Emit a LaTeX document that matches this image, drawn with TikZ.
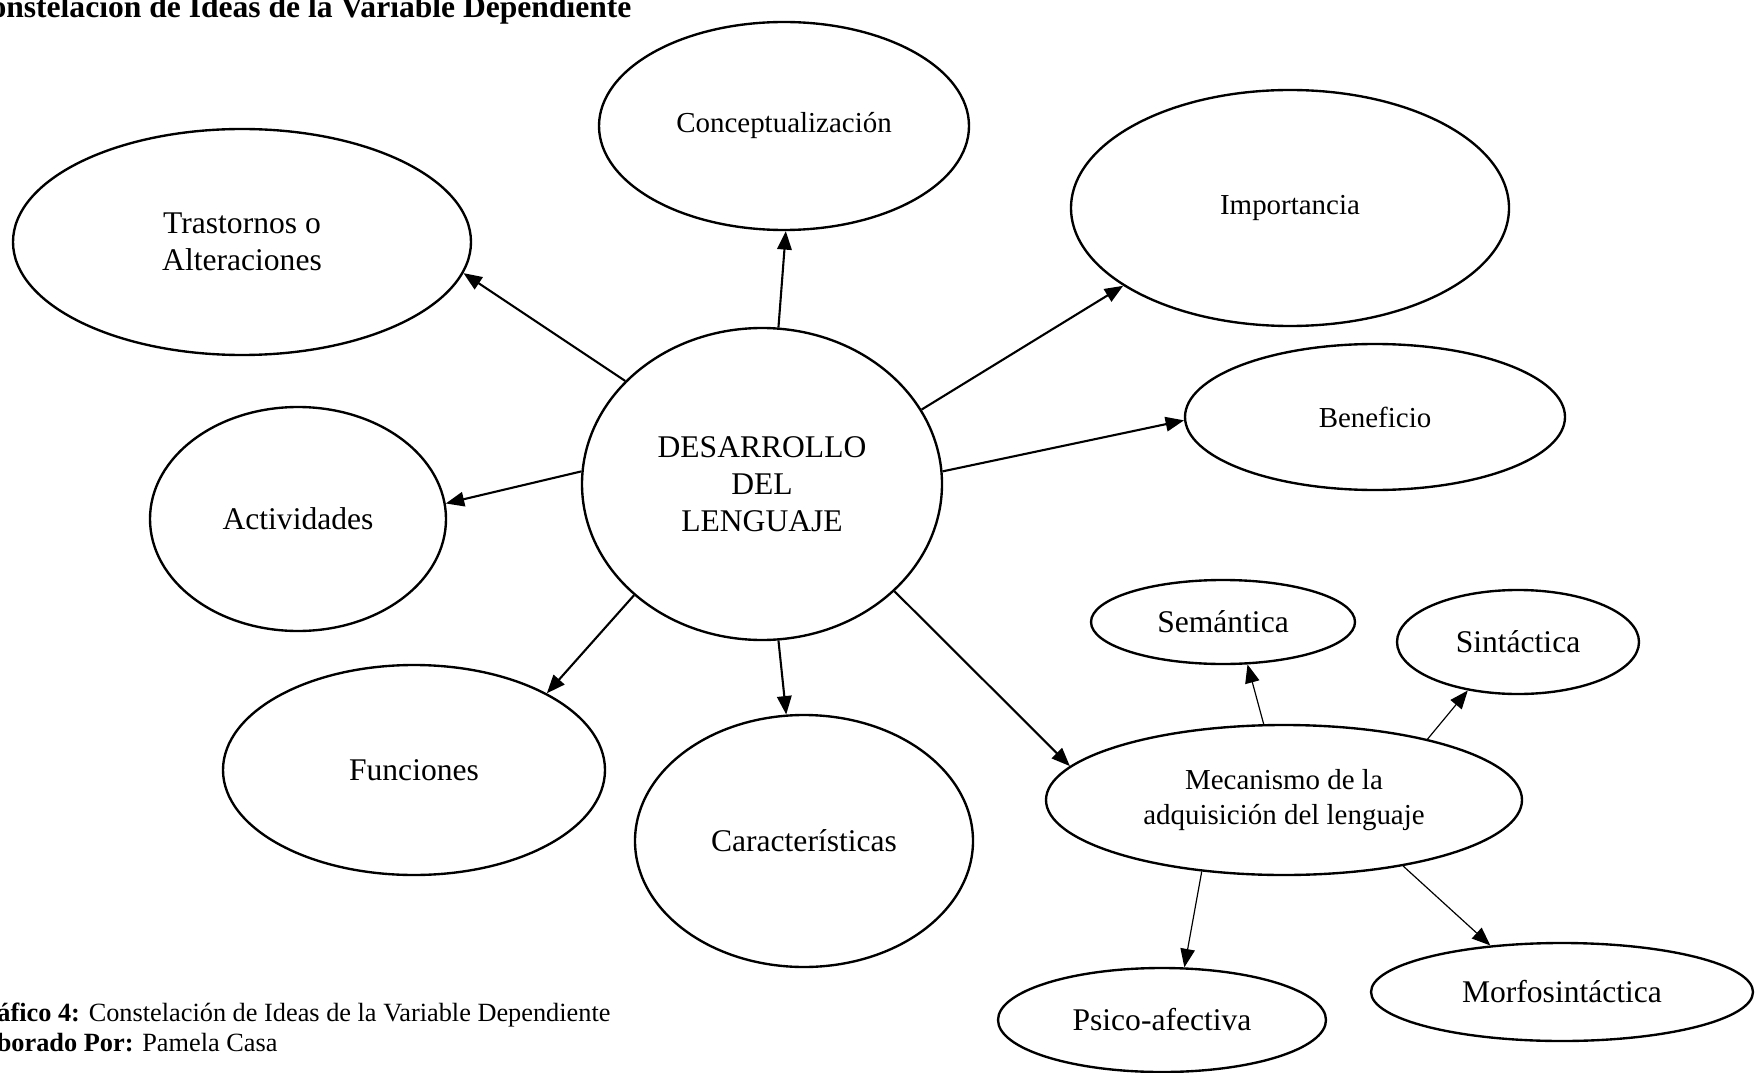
\documentclass[tikz,border=0pt]{standalone}
\usepackage{fontspec}
\setmainfont{Liberation Serif}
\usetikzlibrary{
    arrows.meta,
    shapes.geometric,
    positioning
}

\begin{document}
\begin{tikzpicture}[x=0.38pt, y=-0.38pt,
    idea/.style 2 args={ellipse, draw, line width=0.9pt, inner sep=0pt, align=center,
        minimum width=#1*0.76pt, minimum height=#2*0.76pt, font=\fontsize{12}{14}\selectfont},
    minor/.style={font=\fontsize{11}{13.2}\selectfont},
    note/.style={anchor=base east, inner sep=0pt, font=\fontsize{10}{12}\selectfont},
    link/.style={-{Triangle[length=7pt,width=5.5pt]}, line width=0.8pt},
    sublink/.style={-{Triangle[length=7pt,width=5.5pt]}, line width=0.45pt}]
    \useasboundingbox (0,0) rectangle (1759,1073);
    % title and caption
    \node[note, font=\fontsize{12}{14}\selectfont\bfseries] (titulo) at (632,18) {Constelación de Ideas de la Variable Dependiente};
    \node[note] (pie) at (611,1021) {\textbf{Gráfico 4:} Constelación de Ideas de la Variable Dependiente};
    \node[note] (autor) at (278,1051) {\textbf{Elaborado Por:} Pamela Casa};
    % ideas
    \node[idea={180}{156}] (dl) at (762,484) {DESARROLLO\\DEL\\LENGUAJE};
    \node[idea={185}{104}, minor] (conc) at (784,126) {Conceptualización};
    \node[idea={229}{113}] (trast) at (242,242) {Trastornos o\\Alteraciones};
    \node[idea={219}{118}, minor] (imp) at (1290,208) {Importancia};
    \node[idea={190}{73}, minor] (benef) at (1375,417) {Beneficio};
    \node[idea={148}{112}] (act) at (298,519) {Actividades};
    \node[idea={191}{105}] (func) at (414,770) {Funciones};
    \node[idea={169}{126}] (carac) at (804,841) {Características};
    \node[idea={238}{75}, minor] (mec) at (1284,800) {Mecanismo de la\\adquisición del lenguaje};
    \node[idea={132}{42}] (sem) at (1223,622) {Semántica};
    \node[idea={121}{52}] (sint) at (1518,642) {Sintáctica};
    \node[idea={164}{52}] (psico) at (1162,1020) {Psico-afectiva};
    \node[idea={191}{49}] (morfo) at (1562,992) {Morfosintáctica};
    % arrows
    \draw[link] (dl.143) -- (trast.-8);
    \draw[link] (dl.84) -- (conc.-89);
    \draw[link] (dl.25) -- (imp.205);
    \draw[link] (dl.4) -- (benef.181);
    \draw[link] (dl.176) -- (act.6);
    \draw[link] (dl.-139) -- (func.30);
    \draw[link] (dl.-84) -- (carac.98);
    \draw[link] (dl.-39) -- (mec.171);
    \draw[sublink] (mec.105) -- (sem.-60);
    \draw[sublink] (mec.23) -- (sint.-136);
    \draw[sublink] (mec.-139) -- (psico.67);
    \draw[sublink] (mec.-29) -- (morfo.147);
\end{tikzpicture}
\end{document}
